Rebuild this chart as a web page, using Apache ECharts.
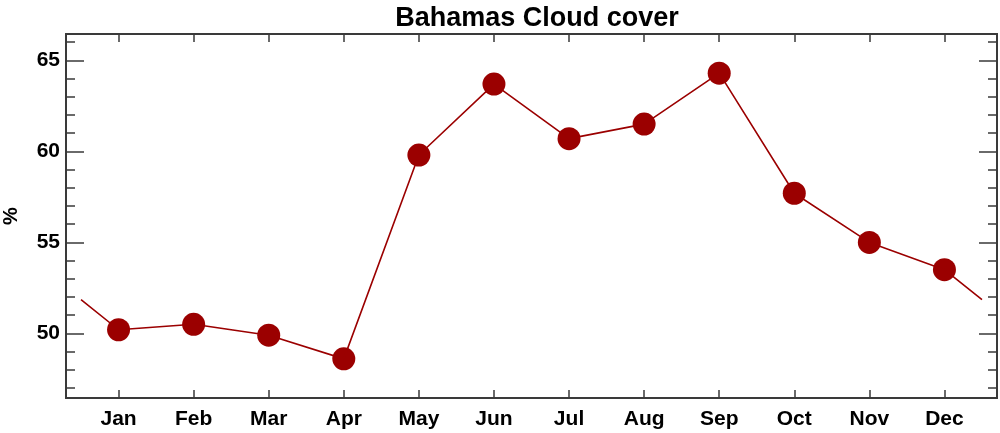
<!DOCTYPE html>
<html>
<head>
<meta charset="utf-8">
<script src="https://cdn.jsdelivr.net/npm/echarts@6/dist/echarts.min.js"></script>
<style>
html,body{margin:0;padding:0;background:#fff;}
#chart{width:1000px;height:433px;}
</style>
</head>
<body>
<div id="chart"></div>
<script>
// monthly cloud cover (%), Jan..Dec
var months = ['Jan','Feb','Mar','Apr','May','Jun','Jul','Aug','Sep','Oct','Nov','Dec'];
var cloud = [50.2, 50.5, 49.9, 48.6, 59.8, 63.7, 60.7, 61.5, 64.3, 57.7, 55.0, 53.5];
var yMajor = [50, 55, 60, 65];
var yMinor = [47, 48, 49, 51, 52, 53, 54, 56, 57, 58, 59, 61, 62, 63, 64, 66];

var monthPos = months.map(function (m, i) { return i + 1; });
var pts = cloud.map(function (v, i) { return [i + 1, v]; });
// the curve wraps round the year: half a month past each end
var edge = (cloud[0] + cloud[11]) / 2;
var linePts = [[0.5, edge]].concat(pts, [[12.5, edge]]);

var red = '#9b0000';
var axisCol = '#3a3a3a';
var yMin = 46.45, yMax = 66.45;

function yAx(pos, vals, len, labels) {
    return {
        type: 'value', position: pos, min: yMin, max: yMax,
        axisLine: { show: true, lineStyle: { color: axisCol, width: 2 } },
        axisTick: { show: true, inside: true, length: len, customValues: vals,
                    lineStyle: { color: axisCol, width: 1.5 } },
        axisLabel: labels ? { show: true, customValues: vals, margin: 6,
                    color: '#000', fontSize: 21, fontWeight: 'bold', fontFamily: 'Liberation Sans' } : { show: false },
        splitLine: { show: false }
    };
}
function xAx(pos, labels) {
    return {
        type: 'value', position: pos, min: 0.3, max: 12.7,
        axisLine: { show: true, lineStyle: { color: axisCol, width: 2 } },
        axisTick: { show: true, inside: true, length: 8, customValues: monthPos,
                    lineStyle: { color: axisCol, width: 1.5 } },
        axisLabel: labels ? { show: true, customValues: monthPos, margin: 11,
                    color: '#000', fontSize: 21, fontWeight: 'bold', fontFamily: 'Liberation Sans',
                    formatter: function (v) { return months[Math.round(v) - 1]; } } : { show: false },
        splitLine: { show: false }
    };
}

var chart = echarts.init(document.getElementById('chart'));
chart.setOption({
    animation: false,
    title: {
        text: 'Bahamas Cloud cover', left: 532, top: 0, textAlign: 'center',
        textStyle: { color: '#000', fontSize: 27, fontWeight: 'bold', fontFamily: 'Liberation Sans' }
    },
    graphic: [{
        type: 'text', x: 11, y: 216, rotation: Math.PI / 2,
        style: { text: '%', fill: '#000', font: 'bold 20px "Liberation Sans"',
                 align: 'center', verticalAlign: 'middle' }
    }],
    grid: { left: 66, right: 3, top: 34, bottom: 35 },
    xAxis: [xAx('bottom', true), xAx('top', false)],
    yAxis: [
        yAx('left', yMajor, 18, true),
        yAx('left', yMinor, 9, false),
        yAx('right', yMajor, 18, false),
        yAx('right', yMinor, 9, false)
    ],
    series: [{
        type: 'line', data: linePts, xAxisIndex: 0, yAxisIndex: 0,
        showSymbol: false, symbol: 'none',
        lineStyle: { color: red, width: 1.6 }
    }, {
        type: 'scatter', data: pts, xAxisIndex: 0, yAxisIndex: 0,
        symbolSize: 23, itemStyle: { color: red, opacity: 1 }
    }]
});
</script>
</body>
</html>
